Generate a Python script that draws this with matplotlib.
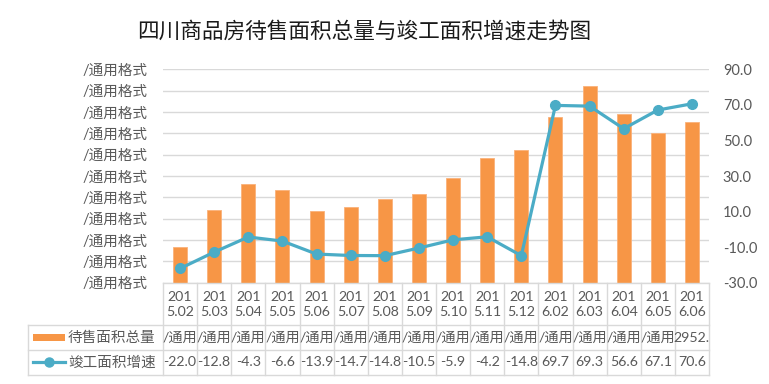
import matplotlib
matplotlib.use("Agg")
import matplotlib.pyplot as plt
from matplotlib.lines import Line2D
from matplotlib.patches import Rectangle
from matplotlib.transforms import blended_transform_factory
from matplotlib.ticker import FixedLocator, FixedFormatter

plt.rcParams['font.family'] = ['Lato', 'Noto Sans CJK SC', 'DejaVu Sans']

# ---------------- data ----------------
title = "四川商品房待售面积总量与竣工面积增速走势图"
categories = ["2015.02", "2015.03", "2015.04", "2015.05", "2015.06", "2015.07",
              "2015.08", "2015.09", "2015.10", "2015.11", "2015.12", "2016.02",
              "2016.03", "2016.04", "2016.05", "2016.06"]
bar_name = "待售面积总量"
line_name = "竣工面积增速"
bar_values = [664, 1339, 1815, 1701, 1324, 1394, 1536, 1638, 1933, 2290, 2435,
              3048, 3614, 3099, 2754, 2952.4]
bar_cell_text = ["/通用"] * 15 + ["2952."]
line_values = [-22.0, -12.8, -4.3, -6.6, -13.9, -14.7, -14.8, -10.5, -5.9, -4.2,
               -14.8, 69.7, 69.3, 56.6, 67.1, 70.6]
left_tick_labels = ["/通用格式"] * 11
right_ticks = [-30.0, -10.0, 10.0, 30.0, 50.0, 70.0, 90.0]

# ---------------- style ----------------
W, H = 769, 384
ORANGE = "#F79646"
BLUE = "#4BACC6"
GRID = "#D9D9D9"
TXT = "#595959"
FS = 10.5
FT = 10.2

fig = plt.figure(figsize=(W / 100, H / 100), dpi=100)
ax_l, ax_r = 163, 709
ax_t, ax_b = 69.3, 282.7
ax = fig.add_axes([ax_l / W, 1 - ax_b / H, (ax_r - ax_l) / W, (ax_b - ax_t) / H])

n = len(categories)
xs = list(range(n))
ymax = 3928
ax.bar(xs, bar_values, width=0.41, color=ORANGE, edgecolor="#FAB27A", linewidth=0.6, zorder=2)
ax.set_xlim(-0.5, n - 0.5)
ax.set_ylim(0, ymax)
lt = [ymax * i / 10 for i in range(11)]
ax.yaxis.set_major_locator(FixedLocator(lt))
ax.yaxis.set_major_formatter(FixedFormatter(left_tick_labels))
ax.grid(axis='y', color=GRID, linewidth=1.0, zorder=0)
ax.set_axisbelow(True)
for s in ax.spines.values():
    s.set_visible(False)
ax.tick_params(axis='y', length=0, pad=11, labelsize=FS, labelcolor=TXT)
ax.set_xticks([])

ax2 = ax.twinx()
ax2.plot(xs, line_values, color=BLUE, linewidth=2.3, marker='o', markersize=7, zorder=3)
ax2.set_ylim(-30, 90)
ax2.set_yticks(right_ticks)
ax2.set_yticklabels([f"{v:.1f}" for v in right_ticks])
ax2.tick_params(axis='y', length=0, pad=10, labelsize=FS, labelcolor=TXT)
for s in ax2.spines.values():
    s.set_visible(False)
ax2.set_xlim(-0.5, n - 0.5)

# title
fig.text(364 / W, 1 - 32 / H, title, ha='center', va='center', fontsize=15.6,
         color="#1a1a1a", family=['Noto Sans CJK SC'])

# ---------------- data table ----------------
tb = blended_transform_factory(ax.transData, fig.transFigure)
tf = fig.transFigure

def fy(y):
    return 1 - y / H

y0, y1, y2, y3 = 282.7, 325, 350, 375
leg_x = 28 / W
lc = GRID
lw = 1.0

def hline(xa, xb, y, trans):
    fig.add_artist(Line2D([xa, xb], [fy(y), fy(y)], color=lc, lw=lw, transform=trans, clip_on=False))

def vline(x, ya, yb, trans):
    fig.add_artist(Line2D([x, x], [fy(ya), fy(yb)], color=lc, lw=lw, transform=trans, clip_on=False))

hline(-0.5, n - 0.5, y0, tb)
for y in (y1, y2, y3):
    hline(leg_x, ax_r / W, y, tf)
for i in range(n + 1):
    vline(i - 0.5, y0, y3, tb)
vline(leg_x, y1, y3, tf)

for i, c in enumerate(categories):
    fig.text(i, fy((y0 + y1) / 2 + 0.5), c[:3] + "\n" + c[3:], transform=tb, ha='center',
             va='center', fontsize=FT, color=TXT, linespacing=1.35)
    fig.text(i, fy((y1 + y2) / 2), bar_cell_text[i], transform=tb, ha='center',
             va='center', fontsize=FT, color=TXT)
    fig.text(i, fy((y2 + y3) / 2), f"{line_values[i]:.1f}", transform=tb, ha='center',
             va='center', fontsize=FT, color=TXT)

# legend keys
fig.add_artist(Rectangle((33 / W, fy(340.5)), 32 / W, 7 / H, transform=tf,
                         facecolor=ORANGE, edgecolor='none'))
fig.add_artist(Line2D([33 / W, 65 / W], [fy(362), fy(362)], color=BLUE, lw=2.3, transform=tf))
fig.add_artist(Line2D([49 / W], [fy(362)], color=BLUE, marker='o', markersize=6.5,
                      transform=tf, linestyle='none'))
fig.text(68 / W, fy((y1 + y2) / 2), bar_name, ha='left', va='center', fontsize=FS,
         color=TXT, family=['Noto Sans CJK SC'])
fig.text(68 / W, fy((y2 + y3) / 2), line_name, ha='left', va='center', fontsize=FS,
         color=TXT, family=['Noto Sans CJK SC'])

fig.savefig("out.png", dpi=100)
